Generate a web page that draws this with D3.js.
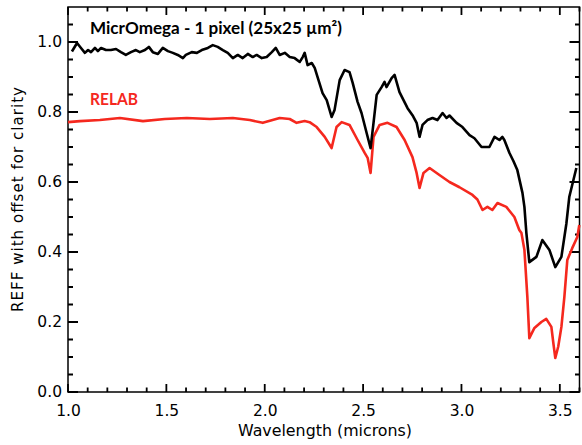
<!DOCTYPE html>
<html><head><meta charset="utf-8">
<script src="https://cdn.jsdelivr.net/npm/d3@7"></script>
<style>
html,body{margin:0;padding:0;background:#fff;}
svg{display:block;}
.axis path{display:none;}
.axis line{display:none;}
.axis text{font-family:"DejaVu Sans",sans-serif;font-size:15.5px;fill:#000;}
</style></head>
<body>
<svg id="c" width="582" height="445"></svg>
<script>
// MicrOmega (black) spectrum: wavelength (microns) and reflectance
const microWave = [1.020,1.046,1.066,1.086,1.102,1.117,1.137,1.152,1.168,1.193,1.218,1.244,1.269,1.294,1.320,1.345,1.365,1.391,1.411,1.431,1.457,1.482,1.508,1.533,1.558,1.584,1.599,1.629,1.655,1.680,1.711,1.736,1.761,1.787,1.812,1.838,1.863,1.888,1.914,1.939,1.959,1.985,2.010,2.036,2.056,2.076,2.102,2.127,2.152,2.178,2.193,2.203,2.218,2.239,2.254,2.294,2.315,2.340,2.355,2.381,2.406,2.431,2.447,2.472,2.492,2.518,2.538,2.553,2.569,2.594,2.609,2.619,2.645,2.660,2.685,2.726,2.751,2.772,2.787,2.802,2.827,2.853,2.878,2.904,2.924,2.939,2.975,3.005,3.041,3.066,3.102,3.142,3.168,3.193,3.208,3.218,3.244,3.264,3.284,3.310,3.320,3.330,3.345,3.381,3.411,3.447,3.477,3.508,3.533,3.548,3.584];
const microRefl = [0.973,0.997,0.983,0.969,0.977,0.971,0.983,0.974,0.983,0.977,0.977,0.980,0.971,0.963,0.971,0.977,0.971,0.977,0.986,0.971,0.966,0.983,0.974,0.969,0.963,0.954,0.963,0.971,0.969,0.977,0.983,0.991,0.986,0.977,0.969,0.954,0.963,0.954,0.966,0.957,0.963,0.954,0.957,0.971,0.983,0.963,0.969,0.957,0.954,0.943,0.957,0.969,0.934,0.940,0.926,0.854,0.834,0.786,0.806,0.891,0.920,0.914,0.883,0.829,0.797,0.740,0.697,0.769,0.849,0.871,0.886,0.871,0.897,0.906,0.857,0.811,0.791,0.769,0.729,0.763,0.777,0.783,0.777,0.797,0.783,0.790,0.769,0.757,0.734,0.725,0.700,0.700,0.729,0.720,0.729,0.720,0.683,0.660,0.634,0.569,0.529,0.454,0.371,0.386,0.434,0.406,0.357,0.386,0.480,0.557,0.640];
// RELAB (red) spectrum
const relabWave = [1.000,1.061,1.162,1.264,1.381,1.492,1.604,1.721,1.838,1.924,1.990,2.076,2.127,2.162,2.203,2.228,2.264,2.305,2.340,2.365,2.391,2.431,2.472,2.508,2.523,2.538,2.553,2.584,2.624,2.670,2.711,2.751,2.772,2.787,2.807,2.838,2.888,2.939,2.990,3.056,3.081,3.107,3.132,3.157,3.183,3.228,3.269,3.294,3.305,3.320,3.335,3.345,3.371,3.406,3.431,3.457,3.467,3.477,3.492,3.508,3.523,3.538,3.563,3.589,3.599];
const relabRefl = [0.771,0.774,0.777,0.783,0.774,0.780,0.783,0.780,0.783,0.777,0.769,0.783,0.780,0.769,0.774,0.771,0.757,0.729,0.697,0.757,0.771,0.763,0.720,0.683,0.669,0.626,0.729,0.763,0.769,0.757,0.720,0.671,0.626,0.583,0.626,0.640,0.620,0.600,0.585,0.563,0.550,0.520,0.529,0.520,0.540,0.529,0.500,0.463,0.454,0.406,0.271,0.154,0.183,0.200,0.209,0.186,0.140,0.097,0.130,0.186,0.271,0.377,0.411,0.443,0.477];
const xMajorTicks = [1.0,1.5,2.0,2.5,3.0,3.5];
const xMinorTicks = [1.1,1.2,1.3,1.4,1.6,1.7,1.8,1.9,2.1,2.2,2.3,2.4,2.6,2.7,2.8,2.9,3.1,3.2,3.3,3.4,3.6];
const yMajorTicks = [0.0,0.2,0.4,0.6,0.8,1.0];
const yMinorTicks = [0.05,0.1,0.15,0.25,0.3,0.35,0.45,0.5,0.55,0.65,0.7,0.75,0.85,0.9,0.95,1.05];
const titleText = "MicrOmega - 1 pixel (25x25 µm²)";
const relabText = "RELAB";
const xLabel = "Wavelength (microns)";
const yLabel = "REFF with offset for clarity";

const L=68, R=579.5, T=7, B=392;
const svg = d3.select("#c");
const x = d3.scaleLinear().domain([1.0,3.6]).range([L,R]);
const y = d3.scaleLinear().domain([0,1.1]).range([B,T]);
const fmt = d3.format(".1f");

// tick labels via d3 axes
svg.append("g").attr("class","axis").attr("transform",`translate(0,${B})`)
  .call(d3.axisBottom(x).tickValues(xMajorTicks).tickSize(0).tickPadding(13).tickFormat(fmt));
svg.append("g").attr("class","axis").attr("transform",`translate(${L},0)`)
  .call(d3.axisLeft(y).tickValues(yMajorTicks).tickSize(0).tickPadding(6).tickFormat(fmt));

// tick marks drawn inward on all four sides, as one path
let tickD = "";
xMajorTicks.forEach(v=>{ const px=x(v); tickD += `M${px},${B}V${B-8}M${px},${T}V${T+8}`; });
xMinorTicks.forEach(v=>{ const px=x(v); tickD += `M${px},${B}V${B-4.5}M${px},${T}V${T+4.5}`; });
yMajorTicks.forEach(v=>{ const py=y(v); tickD += `M${L},${py}H${L+10}M${R},${py}H${R-10}`; });
yMinorTicks.forEach(v=>{ const py=y(v); tickD += `M${L},${py}H${L+5}M${R},${py}H${R-4.5}`; });
svg.append("path").attr("d",tickD).attr("fill","none").attr("stroke","#000").attr("stroke-width",1.8);

// frame
svg.append("rect").attr("x",L).attr("y",T).attr("width",R-L).attr("height",B-T)
  .attr("fill","none").attr("stroke","#000").attr("stroke-width",1.5);

const line = d3.line().x(d=>x(d[0])).y(d=>y(d[1])).curve(d3.curveLinear);
const relab = relabWave.map((w,i)=>[w,relabRefl[i]]);
const micro = microWave.map((w,i)=>[w,microRefl[i]]);

svg.append("path").datum(relab).attr("d",line).attr("fill","none")
  .attr("stroke","#f5281e").attr("stroke-width",2.6).attr("stroke-linejoin","round");
svg.append("path").datum(micro).attr("d",line).attr("fill","none")
  .attr("stroke","#000").attr("stroke-width",2.6).attr("stroke-linejoin","round");

svg.append("text").attr("x",90).attr("y",34)
  .attr("font-family","Lato, 'Open Sans', sans-serif").attr("font-weight","bold")
  .attr("font-size",17).attr("textLength",252).attr("lengthAdjust","spacingAndGlyphs")
  .attr("fill","#000").text(titleText);
svg.append("text").attr("x",90).attr("y",105)
  .attr("font-family","Lato, 'Open Sans', sans-serif").attr("font-weight","bold")
  .attr("font-size",17).attr("textLength",48).attr("lengthAdjust","spacingAndGlyphs")
  .attr("fill","#f5281e").text(relabText);

svg.append("text").attr("x",238).attr("y",436)
  .attr("textLength",174).attr("lengthAdjust","spacingAndGlyphs")
  .attr("font-family","'DejaVu Sans', sans-serif").attr("font-size",15).text(xLabel);
svg.append("text").attr("transform","translate(23,312) rotate(-90)")
  .attr("textLength",225).attr("lengthAdjust","spacing")
  .attr("font-family","'DejaVu Sans', sans-serif").attr("font-size",15).text(yLabel);
</script>
</body></html>
